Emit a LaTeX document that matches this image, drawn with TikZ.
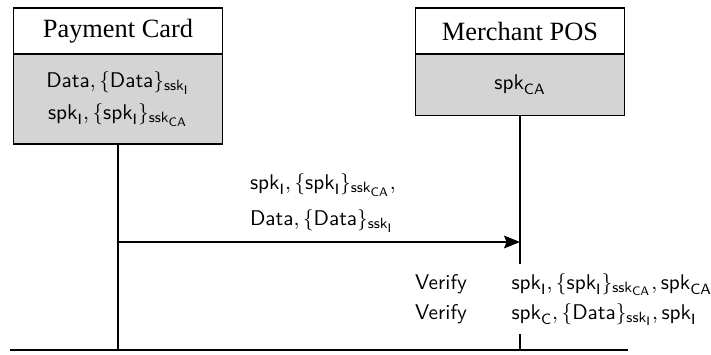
\documentclass[tikz,border=0pt]{standalone}
\usepackage{amsmath}
\usepackage{fontspec}
\newfontfamily\headfont{Liberation Serif}
\usepackage{tikz}
\usetikzlibrary{positioning, arrows.meta}
\DeclareMathSizes{10}{10}{7}{5.8}

% key and signature notation
\newcommand{\pk}[1]{\mathsf{spk}_{\mathsf{#1}}}
\newcommand{\sk}[1]{\mathsf{ssk}_{\mathsf{#1}}}
\newcommand{\dat}{\mathsf{Data}}
\newcommand{\signed}[2]{\{#1\}_{#2}}

\begin{document}
\begin{tikzpicture}[
        x=0.47pt, y=-0.47pt,
        every node/.style={align=center, outer sep=0pt},
        party/.style={rectangle, draw, line width=0.5pt, minimum width=97.8pt, minimum height=21.6pt, font=\headfont\fontsize{12.4}{14}\selectfont},
        store/.style={rectangle, draw, line width=0.5pt, fill=black!17, minimum width=97.8pt},
        lifeline/.style={line width=0.8pt},
        arrow/.style={-{Stealth[length=7.5pt, width=6pt, inset=1.2pt]}, line width=0.8pt}
    ]
    \useasboundingbox (0,0) rectangle (711,354);

    % Payment Card
    \node[party] (card) at (118,31) {Payment Card};
    \node[store, minimum height=42.3pt, below=0pt of card] (cardkeys)
        {$\dat, \signed{\dat}{\sk{I}}$\\[3pt] $\pk{I}, \signed{\pk{I}}{\sk{CA}}$};

    % Merchant POS
    \node[party] (pos) at (520,31) {Merchant POS};
    \node[store, minimum height=28.7pt, below=0pt of pos] (poskeys) {$\pk{CA}$};

    % Floor
    \coordinate (floorL) at (10,350);
    \coordinate (floorR) at (628,350);
    \draw[lifeline] (floorL) -- (floorR);

    % Message
    \coordinate (send) at (cardkeys.south |- 0,242);
    \coordinate (recv) at (poskeys.south |- 0,242);
    \draw[arrow] (send) -- (recv);
    \node[anchor=west, align=left] (msg) at (243,203)
        {$\pk{I}, \signed{\pk{I}}{\sk{CA}},$\\[5pt] $\dat, \signed{\dat}{\sk{I}}$};

    % Checks at the POS
    \node[anchor=west] (checks) at (408,299)
        {\begin{tabular}{@{}l@{\hspace{21pt}}l@{}}
         \textsf{Verify} & $\pk{I}, \signed{\pk{I}}{\sk{CA}}, \pk{CA}$\\[2pt]
         \textsf{Verify} & $\pk{C}, \signed{\dat}{\sk{I}}, \pk{I}$
         \end{tabular}};

    % Lifelines
    \draw[lifeline] (cardkeys.south) -- (cardkeys.south |- floorL);
    \draw[lifeline] (poskeys.south) -- (poskeys.south |- checks.north);
    \draw[lifeline] (poskeys.south |- checks.south) -- (poskeys.south |- floorR);

\end{tikzpicture}
\end{document}
